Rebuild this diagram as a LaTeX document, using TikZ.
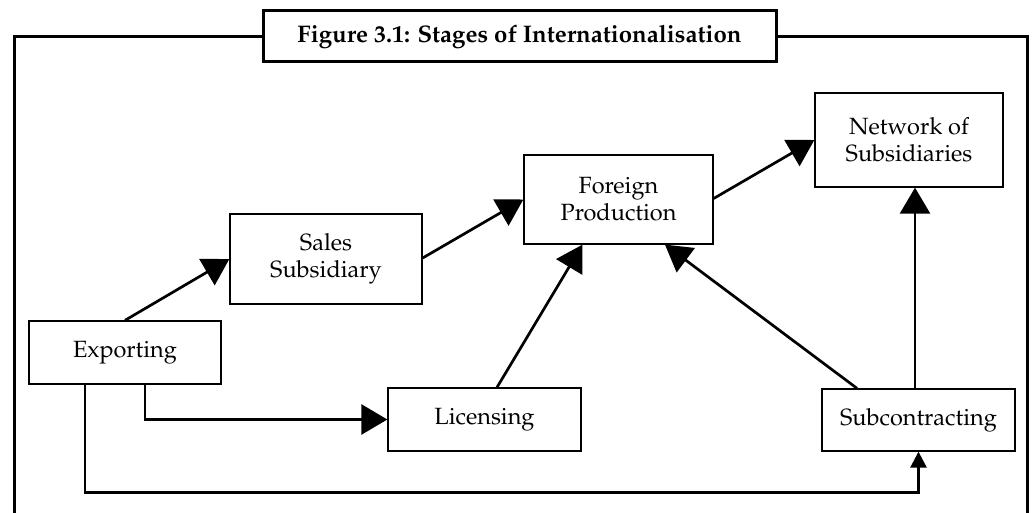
\documentclass[tikz,border=0pt]{standalone}
\usepackage[T1]{fontenc}
\renewcommand{\rmdefault}{ppl}
\usetikzlibrary{arrows.meta}
\begin{document}
\begin{tikzpicture}[x=1pt,y=-1pt,
  box/.style={draw,line width=1.3pt,inner sep=0pt,align=center,font=\fontsize{23.5}{27}\selectfont},
  conn/.style={line width=2.7pt,-{Triangle[length=26pt,width=30pt]}},
  small/.style={line width=2.7pt,-{Triangle[length=16pt,width=16pt]}}]
\useasboundingbox (0,0) rectangle (1032,513);
\fill[white] (0,0) rectangle (1032,513);
% frame
\draw[line width=3pt] (263,37) -- (14,37) -- (14,530);
\draw[line width=3pt] (776,37) -- (1027,37) -- (1027,530);
\node[draw,line width=3pt,minimum width=513pt,minimum height=51pt,inner sep=0pt,font=\fontsize{24}{28}\selectfont\bfseries] (title) at (519.5,36.5) {Figure 3.1: Stages of Internationalisation};
% nodes
\node[box,minimum width=188pt,minimum height=94pt] (net) at (909,140) {Network of\\Subsidiaries};
\node[box,minimum width=189pt,minimum height=89pt] (foreign) at (618.5,199.5) {Foreign\\Production};
\node[box,minimum width=192pt,minimum height=90pt] (sales) at (326,259) {Sales\\Subsidiary};
\node[box,minimum width=192pt,minimum height=63pt] (exp) at (125,352.5) {Exporting};
\node[box,minimum width=193pt,minimum height=63pt] (lic) at (484.5,419.5) {Licensing};
\node[box,minimum width=193pt,minimum height=62pt] (sub) at (918.5,420) {Subcontracting};
% connectors
\draw[conn] (exp.north) -- (sales.west);
\draw[conn] ([yshift=1pt]sales.east) -- (foreign.west);
\draw[conn] ([yshift=1pt]foreign.east) -- (net.west);
\draw[conn] ([xshift=12.5pt]lic.north) -- ([xshift=-36pt]foreign.south);
\draw[conn] ([xshift=-61.5pt]sub.north) -- ([xshift=46.5pt]foreign.south);
\draw[conn] ([xshift=-3.5pt]sub.north) -- ([xshift=-3.5pt]sub.north |- net.south);
\draw[conn] ([xshift=20pt]exp.south) |- (lic.west);
\coordinate (corner) at ([yshift=-41pt]sub.south);
\draw[small] ([xshift=-40pt]exp.south) |- (corner) -- (sub.south);
\end{tikzpicture}
\end{document}
